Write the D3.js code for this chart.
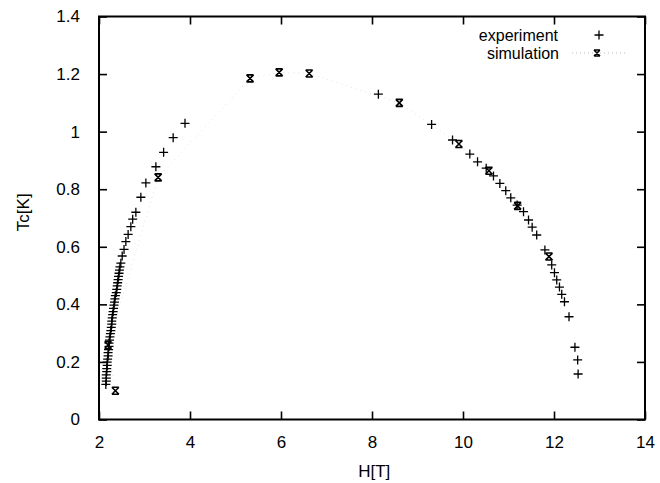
<!DOCTYPE html>
<html>
<head>
<meta charset="utf-8">
<script src="https://cdn.jsdelivr.net/npm/d3@7"></script>
<style>
  body { margin: 0; background: #fff; }
  text { font-family: "Liberation Sans", Arial, sans-serif; fill: #000; }
</style>
</head>
<body>
<div id="chart"></div>
<script>
// Tick labels
const xTicks = [2, 4, 6, 8, 10, 12, 14];
const yTicks = [0, 0.2, 0.4, 0.6, 0.8, 1, 1.2, 1.4];

// Experiment: field H[T] and Tc[K]
const expH = [
  3.89, 3.63, 3.42, 3.25, 3.03, 2.92, 2.81, 2.74, 2.70, 2.64, 2.59, 2.55, 2.51, 2.48,
  2.46, 2.45, 2.44, 2.43, 2.42, 2.41, 2.40, 2.39, 2.38, 2.36, 2.35, 2.34, 2.33, 2.32,
  2.31, 2.30, 2.29, 2.28, 2.28, 2.27, 2.26, 2.25, 2.24, 2.23, 2.22, 2.22, 2.21, 2.20,
  2.20, 2.19, 2.18, 2.18, 2.17, 2.17, 2.16, 2.16, 2.16, 2.15,
  8.14, 9.31, 9.77, 10.15, 10.32, 10.51, 10.67, 10.81, 10.94, 11.05, 11.19, 11.33,
  11.44, 11.52, 11.62, 11.80, 11.95, 12.01, 12.06, 12.12, 12.17, 12.23, 12.33,
  12.46, 12.52, 12.53
];
const expTc = [
  1.029, 0.979, 0.928, 0.878, 0.822, 0.772, 0.720, 0.696, 0.670, 0.643, 0.618, 0.591, 0.568, 0.543,
  0.530, 0.519, 0.508, 0.497, 0.486, 0.475, 0.464, 0.452, 0.441, 0.430, 0.419, 0.408, 0.397, 0.386,
  0.375, 0.364, 0.353, 0.342, 0.331, 0.320, 0.309, 0.298, 0.287, 0.276, 0.265, 0.254, 0.243, 0.232,
  0.221, 0.210, 0.199, 0.188, 0.177, 0.166, 0.155, 0.144, 0.133, 0.122,
  1.130, 1.025, 0.971, 0.922, 0.895, 0.873, 0.846, 0.820, 0.795, 0.770, 0.745, 0.722,
  0.693, 0.668, 0.641, 0.589, 0.537, 0.510, 0.485, 0.460, 0.435, 0.409, 0.357,
  0.251, 0.207, 0.158
];

// Simulation
const simH  = [2.36, 2.20, 3.30, 5.32, 5.96, 6.62, 8.60, 9.91, 10.57, 11.20, 11.89];
const simTc = [0.100, 0.259, 0.841, 1.185, 1.206, 1.202, 1.100, 0.957, 0.864, 0.742, 0.566];

const W = 660, H = 483;
const margin = {top: 16.5, right: 15, bottom: 63.5, left: 99};
const width = W - margin.left - margin.right,
      height = H - margin.top - margin.bottom;

const svg = d3.select("#chart").append("svg")
  .attr("width", W).attr("height", H);
const g = svg.append("g").attr("transform", `translate(${margin.left},${margin.top})`);

const x = d3.scaleLinear().domain([2, 14]).range([0, width]);
const y = d3.scaleLinear().domain([0, 1.4]).range([height, 0]);

const fmt = d => d3.format("~g")(d);

// Axes with inward ticks on all four sides
g.append("g").attr("transform", `translate(0,${height})`)
  .call(d3.axisBottom(x).tickValues(xTicks).tickSize(-8).tickPadding(16).tickFormat(fmt))
  .call(a => a.select(".domain").remove());
g.append("g")
  .call(d3.axisTop(x).tickValues(xTicks).tickSize(-8).tickFormat(""))
  .call(a => a.select(".domain").remove());
g.append("g")
  .call(d3.axisLeft(y).tickValues(yTicks).tickSize(-8).tickPadding(19).tickFormat(fmt))
  .call(a => a.select(".domain").remove());
g.append("g").attr("transform", `translate(${width},0)`)
  .call(d3.axisRight(y).tickValues(yTicks).tickSize(-8).tickFormat(""))
  .call(a => a.select(".domain").remove());

g.selectAll(".tick line").attr("stroke", "#000").attr("stroke-width", 1.6);
g.selectAll(".tick text").style("font-size", "17px").attr("fill", "#000");

// Frame
g.append("rect")
  .attr("width", width).attr("height", height)
  .attr("fill", "none").attr("stroke", "#000").attr("stroke-width", 2);

// Axis labels
svg.append("text")
  .attr("x", margin.left + x(8.05)).attr("y", 477)
  .attr("text-anchor", "middle").style("font-size", "17px")
  .text("H[T]");
svg.append("text")
  .attr("transform", `translate(29,${margin.top + y(0.72)}) rotate(-90)`)
  .attr("text-anchor", "middle").style("font-size", "17px")
  .text("Tc[K]");

// Simulation dotted line (very faint in the scan)
const simData = simH.map((h, i) => ({h, t: simTc[i]}));
g.append("path")
  .datum(simData)
  .attr("fill", "none")
  .attr("stroke", "#e4e4e4")
  .attr("stroke-width", 1)
  .attr("stroke-dasharray", "1,4")
  .attr("d", d3.line().x(d => x(d.h)).y(d => y(d.t)));

// marker helpers
const plus = (sel, s) => sel.append("path")
  .attr("d", `M${-s},0H${s}M0,${-s}V${s}`)
  .attr("stroke", "#000").attr("stroke-width", 1.3).attr("fill", "none");
const cross = (sel, s) => sel.append("path")
  .attr("d", `M${-s},${-s}L${s},${s}M${-s},${s}L${s},${-s}M${-s},${-s}H${s}M${-s},${s}H${s}`)
  .attr("stroke", "#000").attr("stroke-width", 1.6).attr("fill", "none");

const expData = expH.map((h, i) => ({h, t: expTc[i]}));
g.selectAll(".exp")
  .data(expData)
  .enter().append("g")
  .attr("class", "exp")
  .attr("transform", d => `translate(${x(d.h)},${y(d.t)})`)
  .each(function() { plus(d3.select(this), 4.5); });

g.selectAll(".sim")
  .data(simData)
  .enter().append("g")
  .attr("class", "sim")
  .attr("transform", d => `translate(${x(d.h)},${y(d.t)})`)
  .each(function() { cross(d3.select(this), 3.5); });

// Legend
const legend = svg.append("g");
legend.append("text").attr("x", 558).attr("y", 41)
  .attr("text-anchor", "end").style("font-size", "16px").text("experiment");
legend.append("text").attr("x", 559).attr("y", 59)
  .attr("text-anchor", "end").style("font-size", "16px").text("simulation");
plus(legend.append("g").attr("transform", "translate(599,35)"), 4.5);
legend.append("line")
  .attr("x1", 572).attr("x2", 626).attr("y1", 53).attr("y2", 53)
  .attr("stroke", "#bdbdbd").attr("stroke-dasharray", "1,3");
cross(legend.append("g").attr("transform", "translate(597,53)"), 3);
</script>
</body>
</html>
